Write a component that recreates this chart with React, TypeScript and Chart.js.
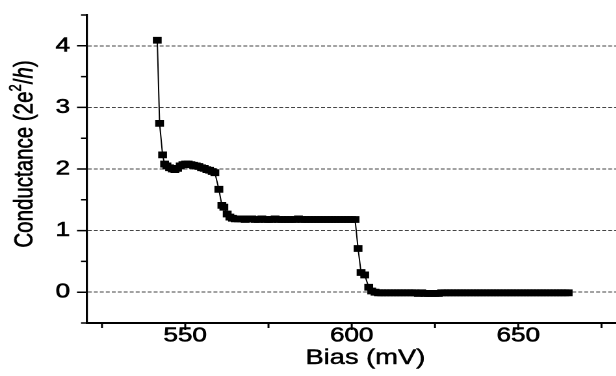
import React, { useEffect, useRef } from 'react';
import { Chart, registerables } from 'chart.js';

Chart.register(...registerables);

// ---- data (bias in mV, conductance in units of 2e^2/h) ----
const headBias = [541.6, 542.3, 543.2, 543.8, 544.5, 545.3, 546.1, 546.9, 547.7, 548.5, 549.3, 550.1, 550.9, 551.7, 552.5, 553.3, 554.1, 554.9, 555.7, 556.5, 557.3, 558.1, 558.9, 560.1, 561.0, 561.6, 562.6, 563.4, 564.2];
const headCond = [4.09, 2.74, 2.23, 2.08, 2.05, 2.02, 2.00, 1.99, 2.01, 2.05, 2.07, 2.08, 2.08, 2.07, 2.06, 2.05, 2.04, 2.02, 2.01, 1.99, 1.98, 1.96, 1.94, 1.67, 1.41, 1.38, 1.27, 1.22, 1.20];

const plateauBias = [565, 566, 567, 568, 569, 570, 571, 572, 573, 574, 575, 576, 577, 578, 579, 580, 581, 582, 583, 584, 585, 586, 587, 588, 589, 590, 591, 592, 593, 594, 595, 596, 597, 598, 599, 600, 601];
const plateauCond = [1.19, 1.19, 1.19, 1.18, 1.19, 1.19, 1.18, 1.18, 1.19, 1.18, 1.18, 1.18, 1.19, 1.18, 1.18, 1.18, 1.18, 1.18, 1.18, 1.19, 1.18, 1.18, 1.18, 1.18, 1.18, 1.18, 1.18, 1.18, 1.18, 1.18, 1.18, 1.18, 1.18, 1.18, 1.18, 1.18, 1.18];

const dropBias = [601.9, 602.8, 603.9, 605.1, 606.0];
const dropCond = [0.71, 0.32, 0.28, 0.08, 0.02];

const tailBias = [607, 608, 609, 610, 611, 612, 613, 614, 615, 616, 617, 618, 619, 620, 621, 622, 623, 624, 625, 626, 627, 628, 629, 630, 631, 632, 633, 634, 635, 636, 637, 638, 639, 640, 641, 642, 643, 644, 645, 646, 647, 648, 649, 650, 651, 652, 653, 654, 655, 656, 657, 658, 659, 660, 661, 662, 663, 664, 665];
const tailCond = [0.00, -0.01, -0.01, -0.01, -0.01, -0.01, -0.01, -0.01, -0.01, -0.01, -0.01, -0.01, -0.01, -0.02, -0.01, -0.02, -0.02, -0.02, -0.02, -0.02, -0.01, -0.01, -0.01, -0.01, -0.01, -0.01, -0.01, -0.01, -0.01, -0.01, -0.01, -0.01, -0.01, -0.01, -0.01, -0.01, -0.01, -0.01, -0.01, -0.01, -0.01, -0.01, -0.01, -0.01, -0.01, -0.01, -0.01, -0.01, -0.01, -0.01, -0.01, -0.01, -0.01, -0.01, -0.01, -0.01, -0.01, -0.01, -0.01];

const xTitle = 'Bias (mV)';
const yTitleParts = ['Conductance (2e', '2', '/', 'h', ')'];

const FAM = "'Liberation Sans', Arial, Helvetica, sans-serif";

const biasAll = [...headBias, ...plateauBias, ...dropBias, ...tailBias];
const condAll = [...headCond, ...plateauCond, ...dropCond, ...tailCond];

const axisDecor = {
  id: 'axisDecor',
  afterDraw(chart: any) {
    const { ctx, scales, chartArea } = chart;
    const x = scales.x;
    const y = scales.y;
    ctx.save();
    ctx.strokeStyle = '#000';
    ctx.lineWidth = 1.5;
    ctx.beginPath();
    y.ticks.forEach((t: any) => {
      const py = y.getPixelForValue(t.value);
      const len = Number.isInteger(t.value) ? 7.7 : 4.6;
      ctx.moveTo(y.right, py);
      ctx.lineTo(y.right - len, py);
    });
    x.ticks.forEach((t: any) => {
      const px = x.getPixelForValue(t.value);
      const len = t.value % 50 === 0 ? 7 : 5;
      ctx.moveTo(px, x.top);
      ctx.lineTo(px, x.top + len);
    });
    ctx.stroke();

    ctx.fillStyle = '#000';
    ctx.strokeStyle = '#000';
    ctx.lineWidth = 0.5;
    ctx.lineJoin = 'round';

    // x axis title
    ctx.font = `21px ${FAM}`;
    ctx.textAlign = 'center';
    ctx.textBaseline = 'middle';
    const tx = (chartArea.left + chartArea.right) / 2;
    ctx.fillText(xTitle, tx, 358);
    ctx.strokeText(xTitle, tx, 358);

    // y axis title with superscript and italic h
    const big = `20.5px ${FAM}`;
    const small = `13px ${FAM}`;
    const ital = `italic 20.5px ${FAM}`;
    const fonts = [big, small, big, ital, big];
    const dys = [0, -7, 0, 0, 0];
    let total = 0;
    const widths = yTitleParts.map((t, i) => {
      ctx.font = fonts[i];
      const w = ctx.measureText(t).width;
      total += w;
      return w;
    });
    ctx.translate(19.2, 154);
    ctx.rotate(-Math.PI / 2);
    ctx.textAlign = 'left';
    let cx = -total / 2;
    yTitleParts.forEach((t, i) => {
      ctx.font = fonts[i];
      ctx.fillText(t, cx, dys[i]);
      ctx.strokeText(t, cx, dys[i]);
      cx += widths[i];
    });
    ctx.restore();
  },
};

export default function App() {
  const ref = useRef<HTMLCanvasElement | null>(null);

  useEffect(() => {
    if (!ref.current) return;
    const chart = new Chart(ref.current, {
      type: 'line',
      data: {
        datasets: [
          {
            data: biasAll.map((b, i) => ({ x: b, y: condAll[i] })),
            borderColor: '#000',
            borderWidth: 1,
            backgroundColor: '#000',
            pointStyle: 'rect',
            pointRadius: 4.8,
            pointBorderWidth: 0,
            pointBackgroundColor: '#000',
            tension: 0,
          },
        ],
      },
      options: {
        animation: false,
        responsive: false,
        devicePixelRatio: 2,
        layout: { padding: { top: 15, right: 1, left: 0, bottom: 0 } },
        plugins: { legend: { display: false }, tooltip: { enabled: false } },
        scales: {
          x: {
            type: 'linear',
            min: 520.5,
            max: 687.7,
            afterFit(s: any) {
              s.height = 53;
              s.paddingLeft = 0;
              s.paddingRight = 0;
            },
            ticks: {
              stepSize: 25,
              includeBounds: false,
              autoSkip: false,
              maxRotation: 0,
              padding: 1,
              color: '#000',
              textStrokeColor: '#000',
              textStrokeWidth: 0.6,
              font: { family: FAM, size: 20 },
              callback: (v: any) => (Number(v) % 50 === 0 ? String(v) : ''),
            },
            grid: { drawOnChartArea: false, drawTicks: false },
            border: { color: '#000', width: 2 },
            title: { display: false, text: xTitle },
          },
          y: {
            type: 'linear',
            min: -0.5,
            max: 4.5,
            afterFit(s: any) {
              s.width = 66.92;
              s.paddingTop = 0;
              s.paddingBottom = 0;
            },
            ticks: {
              stepSize: 0.5,
              autoSkip: false,
              padding: 13,
              color: '#000',
              textStrokeColor: '#000',
              textStrokeWidth: 0.6,
              font: { family: FAM, size: 20 },
              callback: (v: any) => (Number.isInteger(Number(v)) ? String(v) : ''),
            },
            grid: {
              drawTicks: false,
              lineWidth: 1,
              color: (c: any) =>
                c.tick && Number.isInteger(c.tick.value) && c.tick.value >= 0 && c.tick.value <= 4
                  ? '#444'
                  : 'rgba(0,0,0,0)',
            },
            border: { color: '#000', width: 1.6, dash: [3, 1.6] },
          },
        },
      },
      plugins: [axisDecor],
    });
    return () => chart.destroy();
  }, []);

  return (
    <div
      style={{
        position: 'fixed',
        left: 0,
        top: 0,
        width: 616,
        height: 376,
        overflow: 'hidden',
        background: '#fff',
      }}
    >
      <div style={{ width: 500, height: 376, transform: 'scaleX(1.3)', transformOrigin: '0 0' }}>
        <canvas ref={ref} width={500} height={376} style={{ display: 'block' }} />
      </div>
    </div>
  );
}
